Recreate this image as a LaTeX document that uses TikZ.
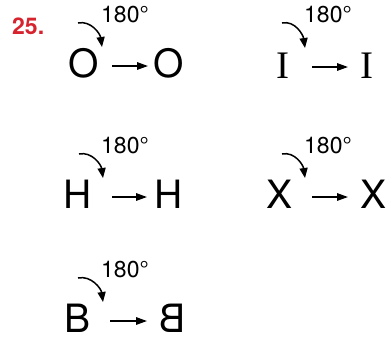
\documentclass[tikz,border=0pt]{standalone}
\usepackage{fontspec}
\usepackage{graphicx}
\setmainfont{TeX Gyre Heros}
\newfontfamily\timesf{Liberation Serif}
\usetikzlibrary{arrows.meta}
\definecolor{numred}{RGB}{214,35,45}
\tikzset{
  letter/.style={font=\fontsize{39}{39}\selectfont, inner sep=0pt, text height=22pt, text depth=0pt, anchor=base},
  deg/.style={font=\fontsize{23}{23}\selectfont, inner sep=0pt, anchor=base west},
  arr/.style={line width=1.5pt, -{Triangle[length=11pt,width=7.5pt]}},
  rot/.style={line width=1.5pt, -{Triangle[length=10pt,width=8pt]}, out=12, in=98},
  num/.style={font=\fontsize{23}{23}\selectfont\bfseries, text=numred, inner sep=0pt, anchor=base west}
}
\begin{document}
\begin{tikzpicture}[x=1pt,y=-1pt]
\useasboundingbox (0,0) rectangle (387,338);
\node[num] (n25) at (12,34) {25.};
% row 1 left: O
\node[deg] (d1) at (101,22) {180°};
\coordinate (s1) at (78,23);
\coordinate (t1) at (102,47);
\draw[rot] (s1) to (t1);
\node[letter] (o1) at (84,77) {O};
\node[letter] (o2) at (169,77) {O};
\draw[arr, shorten <=28pt, shorten >=21pt] (o1.center) -- (o2.center);
% row 1 right: I
\node[deg] (d2) at (304,22) {180°};
\coordinate (s2) at (282,23);
\coordinate (t2) at (305,48);
\draw[rot] (s2) to (t2);
\node[letter, font=\fontsize{39}{39}\selectfont\timesf] (i1) at (282.5,78) {I};
\node[letter, font=\fontsize{39}{39}\selectfont\timesf] (i2) at (366.5,78) {I};
\draw[arr, shorten <=29.5pt, shorten >=18.5pt] (i1.center) -- (i2.center);
% row 2 left: H
\node[deg] (d3) at (101,153) {180°};
\coordinate (s3) at (79,154);
\coordinate (t3) at (103,178);
\draw[rot] (s3) to (t3);
\node[letter] (h1) at (77.5,208) {H};
\node[letter] (h2) at (168.5,208) {H};
\draw[arr, shorten <=34.5pt, shorten >=21.5pt] (h1.center) -- (h2.center);
% row 2 right: X
\node[deg] (d4) at (304,153) {180°};
\coordinate (s4) at (282,154);
\coordinate (t4) at (305,178);
\draw[rot] (s4) to (t4);
\node[letter] (x1) at (279.5,208) {X};
\node[letter] (x2) at (373.5,208) {X};
\draw[arr, shorten <=32.5pt, shorten >=25.5pt] (x1.center) -- (x2.center);
% row 3 left: B
\node[deg] (d5) at (101,277) {180°};
\coordinate (s5) at (78,278);
\coordinate (t5) at (103,302);
\draw[rot] (s5) to (t5);
\node[letter] (b1) at (77.5,332) {B};
\node[letter] (b2) at (172.5,332) {\reflectbox{B}};
\draw[arr, shorten <=32.5pt, shorten >=25.5pt] (b1.center) -- (b2.center);
\end{tikzpicture}
\end{document}
